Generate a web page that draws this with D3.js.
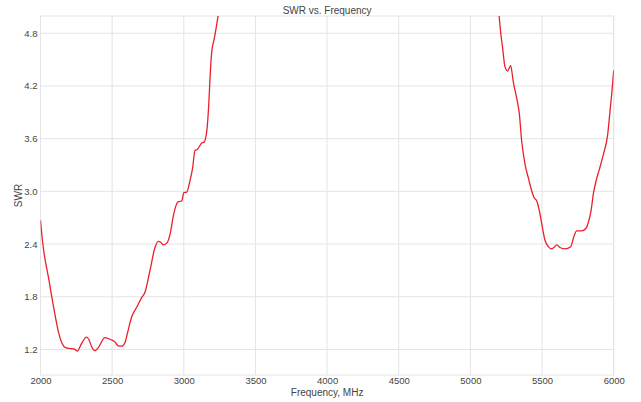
<!DOCTYPE html>
<html><head><meta charset="utf-8">
<script src="https://cdn.jsdelivr.net/npm/d3@7"></script>
<style>
body{margin:0;background:#fff;}
text{font-family:"Liberation Sans",Arial,sans-serif;fill:#444;}
</style></head>
<body><svg id="c" width="641" height="402"></svg>
<script>
const freqs = [2000,2015,2060,2095,2125,2150,2175,2210,2235,2257,2287,2322,2338,2357,2380,2403,2450,2492,2520,2543,2566,2590,2606,2636,2671,2706,2729,2764,2799,2822,2839,2857,2881,2904,2927,2946,2960,2985,3001,3020,3043,3062,3078,3094,3125,3141,3160,3174,3183,3195,3213,3237,3260,
 null,
 5180,5200,5212,5225,5241,5260,5281,5299,5323,5341,5358,5381,5404,5428,5444,5463,5481,5498,5521,5544,5562,5583,5602,5625,5660,5700,5723,5742,5777,5807,5823,5842,5858,5877,5900,5928,5958,5974,5988,6000];
const swr = [2.67,2.42,1.98,1.65,1.40,1.27,1.22,1.21,1.205,1.18,1.27,1.34,1.31,1.23,1.185,1.22,1.335,1.31,1.285,1.24,1.237,1.28,1.38,1.57,1.68,1.79,1.85,2.10,2.36,2.43,2.42,2.39,2.41,2.51,2.72,2.84,2.88,2.89,2.985,2.99,3.12,3.27,3.465,3.476,3.55,3.56,3.68,3.985,4.29,4.59,4.74,4.975,5.25,
 null,
 5.25,5.0,4.80,4.63,4.42,4.37,4.43,4.25,4.06,3.89,3.57,3.31,3.155,3.004,2.93,2.89,2.78,2.63,2.44,2.37,2.344,2.36,2.39,2.36,2.344,2.37,2.49,2.55,2.55,2.58,2.645,2.78,2.97,3.12,3.25,3.42,3.645,3.91,4.14,4.38];
const xTicks = [2000,2500,3000,3500,4000,4500,5000,5500,6000];
const yTicks = [1.2,1.8,2.4,3.0,3.6,4.2,4.8];
const titleText = "SWR vs. Frequency";
const xLabel = "Frequency, MHz";
const yLabel = "SWR";

const svg = d3.select("#c");
const L=40.5, R=613.7, T=16, B=375;
const x = d3.scaleLinear().domain([2000,6000]).range([L,R]);
const y = d3.scaleLinear().domain([0.909,4.996]).range([B,T]);

const grid = svg.append("g");
grid.selectAll("line.v").data(xTicks).join("line")
  .attr("x1",d=>x(d)).attr("x2",d=>x(d)).attr("y1",T).attr("y2",B)
  .attr("stroke","#e4e4e4").attr("stroke-width",1);
grid.selectAll("line.h").data(yTicks).join("line")
  .attr("y1",d=>y(d)).attr("y2",d=>y(d)).attr("x1",L).attr("x2",R)
  .attr("stroke","#e4e4e4").attr("stroke-width",1);
svg.append("rect").attr("x",L).attr("y",T).attr("width",R-L).attr("height",B-T)
  .attr("fill","none").attr("stroke","#e4e4e4");

const xAxis = svg.append("g").attr("transform",`translate(0,${B})`)
  .call(d3.axisBottom(x).tickValues(xTicks).tickSize(0).tickPadding(2).tickFormat(d3.format("d")));
xAxis.select(".domain").remove();
xAxis.selectAll("text").attr("font-size",9.5).attr("dy","0.71em").style("font-family","'Liberation Sans',Arial,sans-serif").attr("fill","#444");

const yAxis = svg.append("g").attr("transform",`translate(${L},0)`)
  .call(d3.axisLeft(y).tickValues(yTicks).tickSize(0).tickPadding(3).tickFormat(d3.format(".1f")));
yAxis.select(".domain").remove();
yAxis.selectAll("text").attr("font-size",9.5).style("font-family","'Liberation Sans',Arial,sans-serif").attr("fill","#444");

const data = freqs.map((f,i)=>({f, v: swr[i]}));
svg.append("clipPath").attr("id","clip").append("rect")
  .attr("x",L).attr("y",T).attr("width",R-L).attr("height",B-T);
const line = d3.line().defined(d=>d.f!==null && d.v!==null)
  .x(d=>x(d.f)).y(d=>y(d.v)).curve(d3.curveMonotoneX);
svg.append("path").datum(data).attr("clip-path","url(#clip)")
  .attr("d",line).attr("fill","none").attr("stroke","#ea1f2a").attr("stroke-width",1.3);

svg.append("text").attr("x",(L+R)/2).attr("y",14).attr("text-anchor","middle")
  .attr("font-size",10).text(titleText);
svg.append("text").attr("x",(L+R)/2).attr("y",396).attr("text-anchor","middle")
  .attr("font-size",10).text(xLabel);
svg.append("text").attr("transform",`translate(22,${(T+B)/2}) rotate(-90)`).attr("text-anchor","middle")
  .attr("font-size",10).text(yLabel);
</script></body></html>
